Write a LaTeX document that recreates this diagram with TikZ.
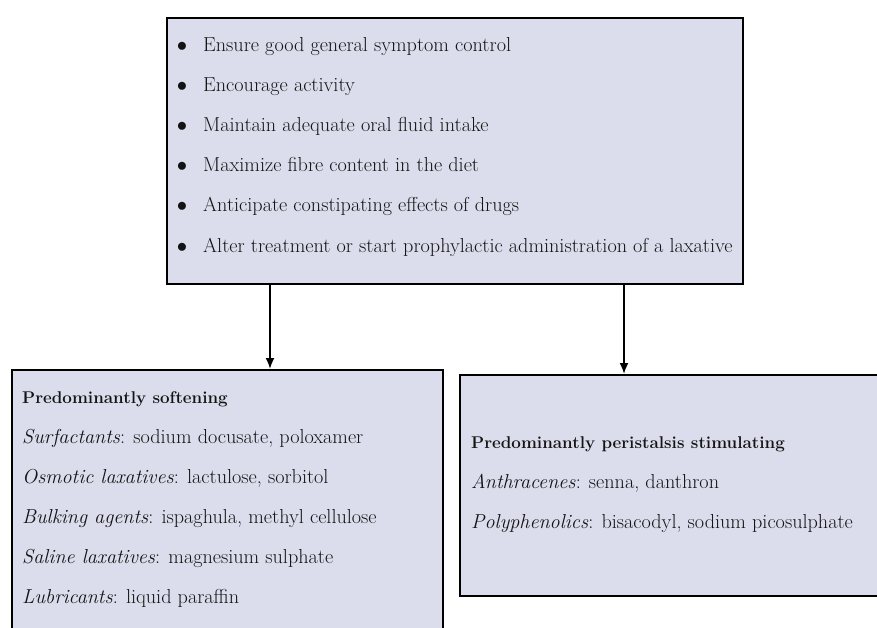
\documentclass[tikz,border=0pt]{standalone}
\usepackage{tikz}
\usetikzlibrary{arrows.meta}
\definecolor{boxfill}{RGB}{220,221,236}

\begin{document}
\begin{tikzpicture}[x=1pt, y=-1pt,
		box/.style = {draw, line width=1.8pt, fill=boxfill, anchor=north west, inner sep=0pt},
		txt/.style = {anchor=base west, inner sep=0pt, text=black!92, font=\fontsize{20.2}{24}\selectfont},
		head/.style = {txt, font=\fontsize{17}{20}\selectfont\bfseries},
		arr/.style = {-{Latex[length=11pt,width=9pt]}, line width=1.8pt}]
		\useasboundingbox (0,0) rectangle (877,628);
		\clip (0,0) rectangle (877,628);
		% boxes
		\node[box, minimum width=576pt, minimum height=266pt] (top) at (166,17) {};
		\node[box, minimum width=431pt, minimum height=290pt] (soft) at (11,369) {};
		\node[box, minimum width=440pt, minimum height=221pt] (stim) at (459,374) {};
		% measures
		\foreach \t [count=\i] in {Ensure good general symptom control, Encourage activity,
			Maintain adequate oral fluid intake, Maximize fibre content in the diet,
			Anticipate constipating effects of drugs,
			Alter treatment or start prophylactic administration of a laxative}
		{
			\node[txt, anchor=base] (bul\i) at (182,12+40*\i) {$\bullet$};
			\node[txt] (m\i) at (203,12+40*\i) {\t};
		}
		% softening
		\node[head] (sh) at (22,403) {Predominantly softening};
		\node[txt] (s1) at (22,443) {\textit{Surfactants}: sodium docusate, poloxamer};
		\node[txt] (s2) at (22,483) {\textit{Osmotic laxatives}: lactulose, sorbitol};
		\node[txt] (s3) at (22,523) {\textit{Bulking agents}: ispaghula, methyl cellulose};
		\node[txt] (s4) at (22,563) {\textit{Saline laxatives}: magnesium sulphate};
		\node[txt] (s5) at (22,603) {\textit{Lubricants}: liquid paraffin};
		% stimulating
		\node[head] (ph) at (471,448) {Predominantly peristalsis stimulating};
		\node[txt] (p1) at (471,488) {\textit{Anthracenes}: senna, danthron};
		\node[txt] (p2) at (471,528) {\textit{Polyphenolics}: bisacodyl, sodium picosulphate};
		% arrows
		\draw[arr] ([xshift=104pt]top.south west) -- ([xshift=104pt]top.south west |- soft.north);
		\draw[arr] ([xshift=458pt]top.south west) -- ([xshift=458pt]top.south west |- stim.north);
	\end{tikzpicture}
\end{document}
